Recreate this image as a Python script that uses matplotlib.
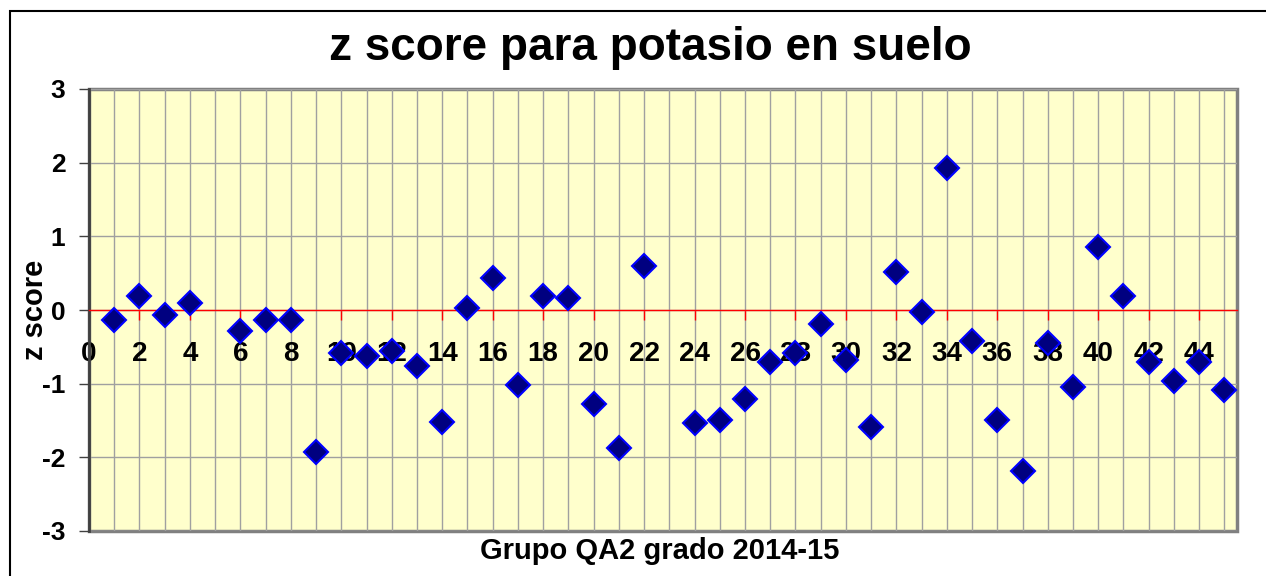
import matplotlib
matplotlib.use("Agg")
import matplotlib.pyplot as plt
from matplotlib.patches import Rectangle
from matplotlib.ticker import MultipleLocator

# participants (5 and 23 have no result)
participantes = [1, 2, 3, 4, 6, 7, 8, 9, 10, 11, 12, 13, 14, 15,
                 16, 17, 18, 19, 20, 21, 22, 24, 25, 26, 27, 28, 29, 30,
                 31, 32, 33, 34, 35, 36, 37, 38, 39, 40, 41, 42, 43, 44, 45]
z_score = [-0.14, 0.19, -0.07, 0.10, -0.28, -0.13, -0.13, -1.93, -0.59, -0.63, -0.56, -0.76, -1.52, 0.03,
           0.44, -1.02, 0.19, 0.16, -1.27, -1.87, 0.60, -1.53, -1.49, -1.21, -0.70, -0.59, -0.19, -0.68,
           -1.59, 0.51, -0.03, 1.93, -0.42, -1.49, -2.19, -0.45, -1.05, 0.85, 0.19, -0.70, -0.96, -0.70, -1.08]

titulo = "z score para potasio en suelo"
eje_x = "Grupo QA2 grado 2014-15"
eje_y = "z score"

plt.rcParams['font.family'] = ['Liberation Sans', 'DejaVu Sans']
plt.rcParams['axes.unicode_minus'] = False


def main():
    fig = plt.figure(figsize=(12.66, 5.76), dpi=100)
    fig.patches.append(Rectangle((10 / 1266, -0.05), 1.1, 1 - 11 / 576 + 0.05,
                                 transform=fig.transFigure, fill=False,
                                 edgecolor='black', lw=1.5))

    ax = fig.add_axes([89 / 1266, 1 - 531 / 576, (1237 - 89) / 1266, (531 - 89) / 576])
    ax.set_facecolor('#FFFFCC')
    ax.set_xlim(0, 45.5)
    ax.set_ylim(-3, 3)

    ax.xaxis.set_major_locator(MultipleLocator(2))
    ax.xaxis.set_minor_locator(MultipleLocator(1))
    ax.yaxis.set_major_locator(MultipleLocator(1))
    ax.grid(which='minor', axis='x', color='#A0A0A0', lw=1)
    ax.grid(which='major', axis='x', color='#A0A0A0', lw=1)
    ax.grid(which='major', axis='y', color='#A0A0A0', lw=1)
    ax.set_axisbelow(True)

    # x axis crosses at zero, in red
    ax.spines['bottom'].set_position(('data', 0))
    ax.spines['bottom'].set_color('red')
    ax.spines['bottom'].set_linewidth(1)
    ax.spines['top'].set_visible(False)
    ax.spines['right'].set_visible(False)
    ax.spines['left'].set_color('#404040')
    ax.spines['left'].set_linewidth(2)
    ax.add_patch(Rectangle((0, 0), 1, 1, transform=ax.transAxes, fill=False,
                           edgecolor='#808080', lw=2.5, clip_on=False, zorder=0.5))

    ax.tick_params(axis='x', which='major', direction='out', length=7, width=1,
                   color='red', pad=15, labelsize=20)
    ax.tick_params(axis='x', which='minor', length=0)
    ax.tick_params(axis='y', direction='out', length=7, width=1, color='#404040',
                   pad=10, labelsize=19)
    for lbl in ax.get_xticklabels() + ax.get_yticklabels():
        lbl.set_fontweight('bold')

    ax.plot(participantes, z_score, 'D', markersize=12, markerfacecolor='#000080',
            markeredgecolor='#0000FF', markeredgewidth=1.5, zorder=3, clip_on=False)

    fig.text(0.514, 1 - 48 / 576, titulo, ha='center', va='center',
             fontsize=33, fontweight='bold')
    fig.text(0.521, 1 - 551 / 576, eje_x, ha='center', va='center',
             fontsize=21, fontweight='bold')
    fig.text(35 / 1266, 1 - 310 / 576, eje_y, ha='center', va='center',
             rotation=90, fontsize=21, fontweight='bold')

    fig.savefig('out.png', dpi=100)


if __name__ == "__main__":
    main()
